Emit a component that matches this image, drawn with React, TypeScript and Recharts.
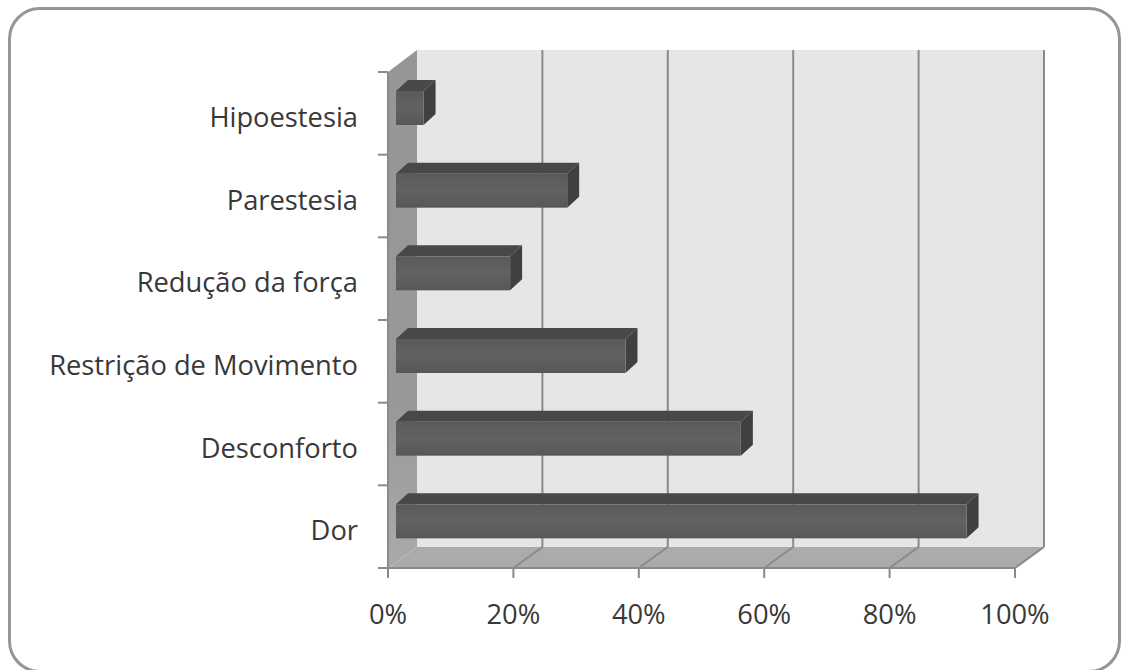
import * as React from "react";
import { BarChart, Bar, XAxis, YAxis, ReferenceArea, ReferenceLine } from "recharts";

// Symptom shares, top of the picture is the last category
const categories = ["Dor", "Desconforto", "Restrição de Movimento", "Redução da força", "Parestesia", "Hipoestesia"];
const values = [91, 55, 36.6, 18.2, 27.3, 4.4];
const xTicks = [0, 20, 40, 60, 80, 100];
const gridTicks = [20, 40, 60, 80, 100];

const data = categories.map((name, i) => ({ name, value: values[i] }));

const WIDTH = 1121;
const HEIGHT = 670;
const MARGIN = { top: 72, right: 106, bottom: 0, left: 0 };
const X_AXIS_H = 102;
const Y_AXIS_W = 388;
const BAND = (HEIGHT - MARGIN.top - X_AXIS_H) / categories.length;

// 3D depth of the walls and the bars
const WALL_DX = 29;
const WALL_DY = 21;
const BAR_DX = 12;
const BAR_DY = 11;
const BAR_INSET = 8;

const FONT = "'Open Sans', sans-serif";
const FONT_SIZE = 27.3;
const TEXT = "#383838";
const LINE = "#8a8a8a";

function Walls(props: any) {
  const { x, y, width, height } = props;
  const r = x + width;
  const b = y + height;
  return (
    <g>
      <polygon
        points={`${x + WALL_DX},${y - WALL_DY - 1} ${r + WALL_DX},${y - WALL_DY - 1} ${r + WALL_DX},${b - WALL_DY} ${x + WALL_DX},${b - WALL_DY}`}
        fill="#e6e6e6"
      />
      <polygon
        points={`${x},${y} ${x + WALL_DX},${y - WALL_DY - 1} ${x + WALL_DX},${b - WALL_DY} ${x},${b}`}
        fill="url(#leftWall)"
      />
      <polygon
        points={`${x},${b} ${x + WALL_DX},${b - WALL_DY} ${r + WALL_DX},${b - WALL_DY} ${r},${b}`}
        fill="#ababab"
      />
    </g>
  );
}

function DepthGridLine(props: any) {
  const { x1, y1, y2 } = props;
  const top = Math.min(y1, y2);
  const bottom = Math.max(y1, y2);
  return (
    <g stroke={LINE} strokeWidth={2} fill="none">
      <line x1={x1} y1={bottom} x2={x1 + WALL_DX} y2={bottom - WALL_DY} />
      <line x1={x1 + WALL_DX} y1={bottom - WALL_DY} x2={x1 + WALL_DX} y2={top - WALL_DY - 1} />
    </g>
  );
}

function Bar3D(props: any) {
  const { x, y, width, height } = props;
  const fx = x + BAR_INSET;
  const fy = y - 5;
  const right = fx + width;
  const bottom = fy + height;
  return (
    <g>
      <polygon
        points={`${fx},${fy} ${fx + BAR_DX},${fy - BAR_DY} ${right + BAR_DX},${fy - BAR_DY} ${right},${fy}`}
        fill="#484848"
      />
      <polygon
        points={`${right},${fy} ${right + BAR_DX},${fy - BAR_DY} ${right + BAR_DX},${bottom - BAR_DY} ${right},${bottom}`}
        fill="#404040"
      />
      <rect x={fx} y={fy} width={width} height={height} fill="url(#barFront)" />
    </g>
  );
}

function CategoryTick(props: any) {
  const { x, y, payload, index } = props;
  const axisX = x + 30;
  const tickBottom = y + BAND / 2;
  const tickTop = y - BAND / 2;
  return (
    <g>
      <line x1={axisX - 10} y1={tickBottom} x2={axisX} y2={tickBottom} stroke={LINE} strokeWidth={2} />
      {index === categories.length - 1 ? (
        <line x1={axisX - 10} y1={tickTop} x2={axisX} y2={tickTop} stroke={LINE} strokeWidth={2} />
      ) : null}
      <text x={x} y={y + 3} textAnchor="end" dominantBaseline="central" fontFamily={FONT} fontSize={FONT_SIZE} fill={TEXT}>
        {payload.value}
      </text>
    </g>
  );
}

export default function App() {
  return (
    <div style={{ position: "absolute", left: 0, top: 0, width: WIDTH, height: HEIGHT, background: "#fff", overflow: "hidden" }}>
      <div
        style={{
          position: "absolute",
          left: 8,
          top: 7,
          width: 1107,
          height: 660,
          border: "3px solid #959595",
          borderRadius: 32,
        }}
      />
      <div style={{ position: "absolute", left: 0, top: 0 }}>
        <BarChart width={WIDTH} height={HEIGHT} data={data} layout="vertical" margin={MARGIN} barSize={34}>
          <defs>
            <linearGradient id="leftWall" x1="0" y1="0" x2="0" y2="1">
              <stop offset="0%" stopColor="#969696" />
              <stop offset="70%" stopColor="#999999" />
              <stop offset="100%" stopColor="#aaaaaa" />
            </linearGradient>
            <linearGradient id="barFront" x1="0" y1="0" x2="0" y2="1">
              <stop offset="0%" stopColor="#5a5a5a" />
              <stop offset="50%" stopColor="#626262" />
              <stop offset="100%" stopColor="#575757" />
            </linearGradient>
          </defs>
          <ReferenceArea x1={0} x2={100} shape={Walls} ifOverflow="visible" zIndex={50} />
          {gridTicks.map((t) => (
            <ReferenceLine key={t} x={t} shape={DepthGridLine} ifOverflow="visible" zIndex={60} />
          ))}
          <XAxis
            type="number"
            domain={[0, 100]}
            ticks={xTicks}
            interval={0}
            height={X_AXIS_H}
            tickFormatter={(v) => `${v}%`}
            tickSize={10}
            tickMargin={27}
            axisLine={{ stroke: LINE, strokeWidth: 2 }}
            tickLine={{ stroke: LINE, strokeWidth: 2 }}
            tick={{ fontFamily: FONT, fontSize: FONT_SIZE, fill: TEXT }}
          />
          <YAxis
            type="category"
            dataKey="name"
            reversed
            width={Y_AXIS_W}
            interval={0}
            tickLine={false}
            tickSize={0}
            tickMargin={30}
            axisLine={{ stroke: LINE, strokeWidth: 2 }}
            tick={CategoryTick}
          />
          <Bar dataKey="value" shape={Bar3D} isAnimationActive={false} />
        </BarChart>
      </div>
    </div>
  );
}
